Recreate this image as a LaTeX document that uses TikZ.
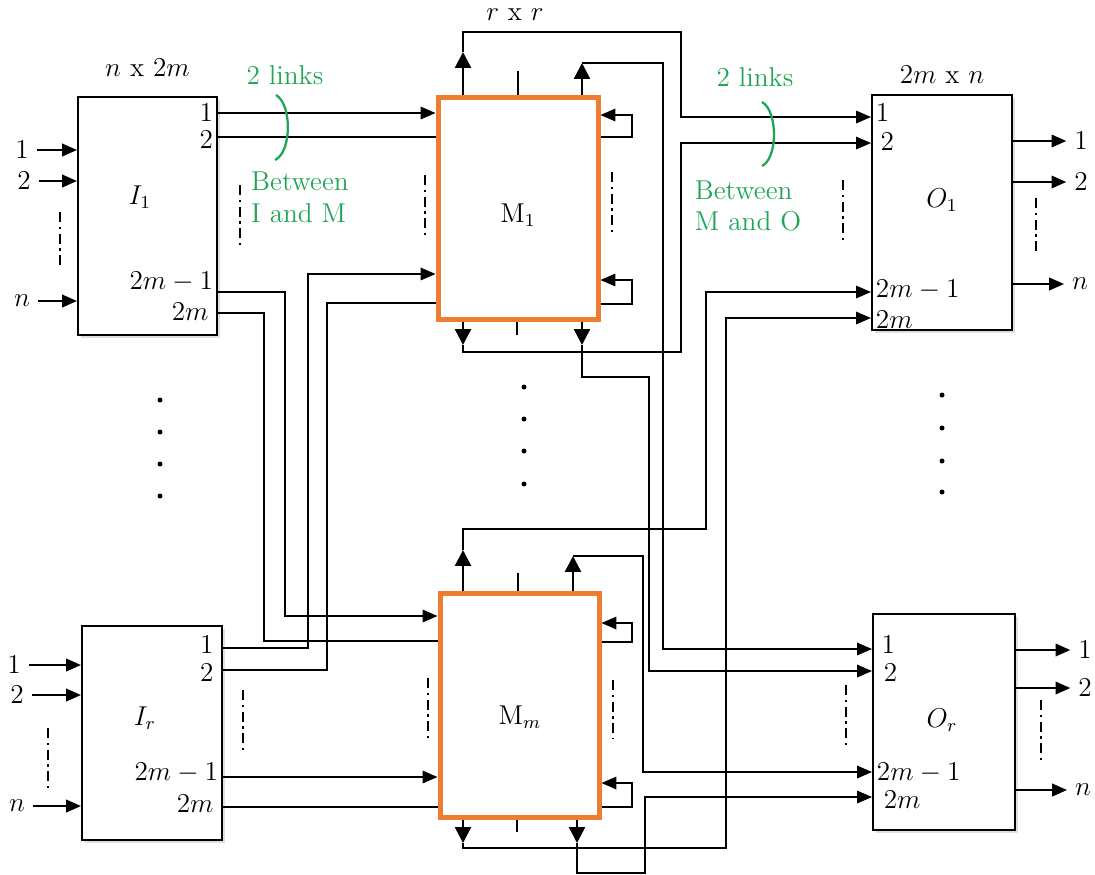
\documentclass[tikz,border=0pt]{standalone}
\usepackage{amsmath}
\usepackage{amssymb}
\usepackage{tikz}
\usetikzlibrary{positioning, fit, arrows.meta, shadows}

\definecolor{arancio}{RGB}{237,125,49}
\definecolor{verde}{RGB}{30,165,85}

\begin{document}
\begin{tikzpicture}[x=0.44pt, y=-0.44pt, font=\large,
    blocco/.style={draw, line width=0.9pt, fill=white, inner sep=0pt,
        drop shadow={opacity=0.25, shadow xshift=1.5pt, shadow yshift=-1.5pt}},
    centrale/.style={blocco, draw=arancio, line width=2.2pt},
    filo/.style={line width=0.5pt},
    punta/.style={-{Triangle[length=6.5pt, width=5.5pt]}},
    ingresso/.style={line width=0.9pt, -{Triangle[length=6.5pt, width=5.5pt]}},
    uscitaM/.style={line width=1.1pt, -{Triangle[length=7pt, width=7pt]}},
    puntini/.style={line width=0.9pt, dash pattern=on 4.5pt off 2pt on 1pt off 2pt},
    etich/.style={inner sep=2pt}]

    \useasboundingbox (0,0) rectangle (1095,874);

    % blocchi
    \node[blocco, fit={(78,97) (217,335)}] (I1) {};
    \node[blocco, fit={(82,626) (222,840)}] (Ir) {};
    \node[centrale, fit={(438,97) (598,319)}] (M1) {};
    \node[centrale, fit={(440,593) (599,817)}] (Mm) {};
    \node[blocco, fit={(872,95) (1012,330)}] (O1) {};
    \node[blocco, fit={(873,614) (1015,830)}] (Or) {};

    \node[above=5pt of I1] (I1tit) {$n$ x $2m$};
    \node at (515,15) (Mtit) {$r$ x $r$};
    \node[above=1pt of O1] (O1tit) {$2m$ x $n$};

    \node at (140,197) (I1lab) {$I_1$};
    \node at (145,718) (Irlab) {$I_r$};
    \node at (518,215) (M1lab) {$\mathrm{M}_1$};
    \node at (520,717) (Mmlab) {$\mathrm{M}_m$};
    \node at (942,200) (O1lab) {$O_1$};
    \node at (942,720) (Orlab) {$O_r$};

    % ingressi
    \node (a1) at (22,150) {$1$};
    \node (a2) at (24,181) {$2$};
    \node (an) at (22,301) {$n$};
    \node (b1) at (14,665) {$1$};
    \node (b2) at (17,695) {$2$};
    \node (bn) at (17,806) {$n$};
    \draw[ingresso] (a1) -- (I1.west |- a1);
    \draw[ingresso] (a2) -- (I1.west |- a2);
    \draw[ingresso] (an) -- (I1.west |- an);
    \draw[ingresso] (b1) -- (Ir.west |- b1);
    \draw[ingresso] (b2) -- (Ir.west |- b2);
    \draw[ingresso] (bn) -- (Ir.west |- bn);

    % uscite
    \node (c1) at (1081,141) {$1$};
    \node (c2) at (1081,182) {$2$};
    \node (cn) at (1080,284) {$n$};
    \node (d1) at (1085,650) {$1$};
    \node (d2) at (1085,688) {$2$};
    \node (dn) at (1083,790) {$n$};
    \draw[ingresso] (O1.east |- c1) -- (c1);
    \draw[ingresso] (O1.east |- c2) -- (c2);
    \draw[ingresso] (O1.east |- cn) -- (cn);
    \draw[ingresso] (Or.east |- d1) -- (d1);
    \draw[ingresso] (Or.east |- d2) -- (d2);
    \draw[ingresso] (Or.east |- dn) -- (dn);

    % numeri delle porte
    \node[etich, anchor=east] (I1p1) at (I1.east |- 0,113) {$1$};
    \node[etich, anchor=east] (I1p2) at (I1.east |- 0,140) {$2$};
    \node[etich, anchor=east] (I1p3) at (I1.east |- 0,282) {$2m-1$};
    \node[etich, anchor=east] (I1p4) at ([xshift=-2pt]I1.east |- 0,312) {$2m$};
    \node[etich, anchor=east] (Irp1) at ([xshift=-2pt]Ir.east |- 0,645) {$1$};
    \node[etich, anchor=east] (Irp2) at ([xshift=-2pt]Ir.east |- 0,673) {$2$};
    \node[etich, anchor=east] (Irp3) at (Ir.east |- 0,773) {$2m-1$};
    \node[etich, anchor=east] (Irp4) at ([xshift=-2pt]Ir.east |- 0,804) {$2m$};
    \node[etich, anchor=west] (O1p1) at (O1.west |- 0,113) {$1$};
    \node[etich, anchor=west] (O1p2) at ([xshift=2pt]O1.west |- 0,142) {$2$};
    \node[etich, anchor=west] (O1p3) at (O1.west |- 0,290) {$2m-1$};
    \node[etich, anchor=west] (O1p4) at (O1.west |- 0,320) {$2m$};
    \node[etich, anchor=west] (Orp1) at ([xshift=2pt]Or.west |- 0,645) {$1$};
    \node[etich, anchor=west] (Orp2) at ([xshift=3pt]Or.west |- 0,673) {$2$};
    \node[etich, anchor=west] (Orp3) at (Or.west |- 0,773) {$2m-1$};
    \node[etich, anchor=west] (Orp4) at ([xshift=3pt]Or.west |- 0,800) {$2m$};

    % tratteggi verticali
    \foreach \x/\ya/\yb in {60/212/268, 48/728/788, 240/185/245, 243/690/750,
        425/175/235, 428/678/738, 612/172/232, 613/680/738,
        843/180/240, 846/685/745, 1036/198/255, 1041/700/760}
        \draw[puntini] (\x,\ya) -- (\x,\yb);

    % puntini tra i blocchi
    \foreach \y in {400,432,464,496} \fill (160,\y) circle (1.1pt);
    \foreach \y in {387,419,451,484} \fill (524,\y) circle (1.1pt);
    \foreach \y in {395,428,461,492} \fill (942,\y) circle (1.1pt);

    % collegamenti I -> M
    \draw[filo, punta] (I1.east |- 0,113) -- (M1.west |- 0,113);
    \draw[filo] (I1.east |- 0,137) -- (M1.west |- 0,137);
    \draw[filo, punta] (I1.east |- 0,292) -| (285,616) -- (Mm.west |- 0,616);
    \draw[filo] (I1.east |- 0,313) -| (264,641) -- (Mm.west |- 0,641);
    \draw[filo, punta] (Ir.east |- 0,648) -| (308,274) -- (M1.west |- 0,274);
    \draw[filo] (Ir.east |- 0,670) -| (327,303) -- (M1.west |- 0,303);
    \draw[filo, punta] (Ir.east |- 0,777) -- (Mm.west |- 0,777);
    \draw[filo] (Ir.east |- 0,807) -- (Mm.west |- 0,807);

    % anelli sul lato destro di M
    \draw[filo, punta] (M1.east |- 0,137) -| (632,115) -- (M1.east |- 0,115);
    \draw[filo, punta] (M1.east |- 0,304) -| (632,280) -- (M1.east |- 0,280);
    \draw[filo, punta] (Mm.east |- 0,642) -| (632,623) -- (Mm.east |- 0,623);
    \draw[filo, punta] (Mm.east |- 0,807) -| (632,783) -- (Mm.east |- 0,783);

    % tacche
    \draw[filo] (M1.north -| 518,0) -- (518,71);
    \draw[filo] (M1.south -| 517,0) -- (517,335);
    \draw[filo] (Mm.north -| 518,0) -- (518,573);
    \draw[filo] (Mm.south -| 517,0) -- (517,832);

    % uscite di M
    \draw[uscitaM] (M1.north -| 463,0) -- (463,52) coordinate (m1a);
    \draw[uscitaM] (M1.north -| 582,0) -- (582,63) coordinate (m1b);
    \draw[uscitaM] (M1.south -| 463,0) -- (463,345) coordinate (m1c);
    \draw[uscitaM] (M1.south -| 582,0) -- (582,345) coordinate (m1d);
    \draw[uscitaM] (Mm.north -| 463,0) -- (463,550) coordinate (mma);
    \draw[uscitaM] (Mm.north -| 573,0) -- (573,556) coordinate (mmb);
    \draw[uscitaM] (Mm.south -| 463,0) -- (463,843) coordinate (mmc);
    \draw[uscitaM] (Mm.south -| 577,0) -- (577,843) coordinate (mmd);

    % collegamenti M -> O
    \draw[filo, punta] (m1a) |- (681,32) |- (O1.west |- 0,117);
    \draw[filo, punta] (m1b) -| (663,649) -- (Or.west |- 0,649);
    \draw[filo, punta] (m1c) |- (681,352) |- (O1.west |- 0,143);
    \draw[filo, punta] (m1d) |- (649,377) |- (Or.west |- 0,671);
    \draw[filo, punta] (mma) |- (706,529) |- (O1.west |- 0,292);
    \draw[filo, punta] (mmb) -| (643,772) -- (Or.west |- 0,772);
    \draw[filo, punta] (mmc) |- (726,848) |- (O1.west |- 0,318);
    \draw[filo, punta] (mmd) |- (645,873) |- (Or.west |- 0,797);

    % note in verde
    \node[text=verde] (lk1) at (285,75) {2 links};
    \node[text=verde, align=left] (bt1) at (300,197) {Between\\I and M};
    \node[text=verde] (lk2) at (755,77) {2 links};
    \node[text=verde, align=left] (bt2) at (748,206) {Between\\M and O};
    \draw[verde, line width=1pt] (276,95) .. controls (292,104) and (292,152) .. (275,160);
    \draw[verde, line width=1pt] (762,102) .. controls (778,111) and (778,158) .. (762,166);

\end{tikzpicture}
\end{document}
